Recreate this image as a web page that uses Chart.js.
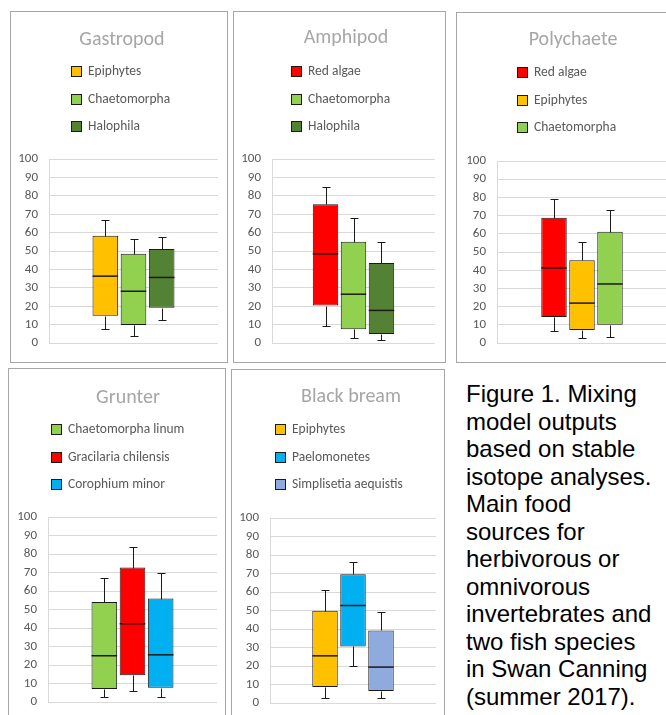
<!DOCTYPE html>
<html>
<head>
<meta charset="utf-8">
<script src="https://cdn.jsdelivr.net/npm/chart.js@4.4.1/dist/chart.umd.min.js"></script>
<style>
  html, body { margin: 0; padding: 0; background: #fff; }
  body { width: 666px; height: 715px; overflow: hidden; position: relative; }
  .panel { position: absolute; box-sizing: border-box; border: 1px solid #a6a6a6; background: #fff; overflow: hidden; }
  .panel canvas { display: block; }
  #caption {
    position: absolute; left: 466px; top: 380px;
    font-family: "Liberation Sans", Arial, sans-serif; font-size: 24px; line-height: 27.5px;
    color: #000; white-space: nowrap;
  }
</style>
</head>
<body>
<div class="panel" style="left:10px;top:11px;width:218px;height:352px"><canvas id="gastropod"></canvas></div>
<div class="panel" style="left:233px;top:11px;width:213px;height:352px"><canvas id="amphipod"></canvas></div>
<div class="panel" style="left:456px;top:12px;width:220px;height:351px"><canvas id="polychaete"></canvas></div>
<div class="panel" style="left:8px;top:368px;width:218px;height:360px"><canvas id="grunter"></canvas></div>
<div class="panel" style="left:231px;top:369px;width:214px;height:360px"><canvas id="blackbream"></canvas></div>
<div id="caption">Figure 1. Mixing<br>model outputs<br>based on stable<br>isotope analyses.<br>Main food<br>sources for<br>herbivorous or<br>omnivorous<br>invertebrates and<br>two fish species<br>in Swan Canning<br>(summer 2017).</div>
<script>
// box plot stats (% contribution): whisker low, Q1, median, Q3, whisker high
const gastropodSources = ['Epiphytes', 'Chaetomorpha', 'Halophila'];
const gastropodLow = [7.6, 3.7, 12.6];
const gastropodQ1 = [14.9, 9.9, 19.2];
const gastropodMedian = [36.4, 28.2, 35.7];
const gastropodQ3 = [58.4, 48.5, 51.2];
const gastropodHigh = [67.1, 56.7, 57.7];

const amphipodSources = ['Red algae', 'Chaetomorpha', 'Halophila'];
const amphipodLow = [9.2, 2.7, 2.0];
const amphipodQ1 = [20.4, 7.6, 5.0];
const amphipodMedian = [48.5, 26.6, 17.8];
const amphipodQ3 = [75.5, 55.1, 43.5];
const amphipodHigh = [84.7, 67.7, 55.1];

const polychaeteSources = ['Red algae', 'Epiphytes', 'Chaetomorpha'];
const polychaeteLow = [6.5, 2.7, 3.2];
const polychaeteQ1 = [14.4, 7.2, 10.1];
const polychaeteMedian = [41.3, 22.0, 32.5];
const polychaeteQ3 = [68.8, 45.5, 61.2];
const polychaeteHigh = [79.4, 55.8, 73.1];

const grunterSources = ['Chaetomorpha linum', 'Gracilaria chilensis', 'Corophium minor'];
const grunterLow = [2.9, 5.8, 2.9];
const grunterQ1 = [7.0, 14.4, 7.7];
const grunterMedian = [25.0, 42.3, 25.5];
const grunterQ3 = [54.1, 72.7, 55.9];
const grunterHigh = [67.1, 84.0, 69.6];

const breamSources = ['Epiphytes', 'Paelomonetes', 'Simplisetia aequistis'];
const breamLow = [2.9, 20.1, 2.9];
const breamQ1 = [8.6, 30.6, 6.5];
const breamMedian = [25.5, 52.7, 19.4];
const breamQ3 = [49.8, 69.6, 39.2];
const breamHigh = [61.0, 76.4, 49.3];

const yTicks = [0, 10, 20, 30, 40, 50, 60, 70, 80, 90, 100];

const sourceColors = {
  'Epiphytes': '#ffc000',
  'Chaetomorpha': '#92d050',
  'Chaetomorpha linum': '#92d050',
  'Halophila': '#548235',
  'Red algae': '#ff0000',
  'Gracilaria chilensis': '#ff0000',
  'Corophium minor': '#00b0f0',
  'Paelomonetes': '#00b0f0',
  'Simplisetia aequistis': '#8faadc'
};

const FONT = 'Carlito, Lato, "Liberation Sans", sans-serif';
const INK = '#1a1a1a';

// median line + whiskers on top of the Q1-Q3 floating bars
const boxWhiskers = {
  id: 'boxWhiskers',
  afterDatasetsDraw(chart) {
    const ctx = chart.ctx;
    const y = chart.scales.y;
    ctx.save();
    ctx.strokeStyle = INK;
    chart.data.datasets.forEach((ds, i) => {
      const bar = chart.getDatasetMeta(i).data[0];
      const half = bar.width / 2;
      const cx = Math.round(bar.x) + 0.5;
      const px = v => Math.round(y.getPixelForValue(v)) + 0.5;
      ctx.lineWidth = 1;
      ctx.beginPath();
      ctx.moveTo(cx, px(ds.q3)); ctx.lineTo(cx, px(ds.high));
      ctx.moveTo(cx - 4, px(ds.high)); ctx.lineTo(cx + 4, px(ds.high));
      ctx.moveTo(cx, px(ds.q1)); ctx.lineTo(cx, px(ds.low));
      ctx.moveTo(cx - 4, px(ds.low)); ctx.lineTo(cx + 4, px(ds.low));
      ctx.stroke();
      ctx.lineWidth = 1.5;
      ctx.beginPath();
      ctx.moveTo(bar.x - half, y.getPixelForValue(ds.median));
      ctx.lineTo(bar.x + half, y.getPixelForValue(ds.median));
      ctx.stroke();
    });
    ctx.restore();
  }
};

// title + one legend entry per row, stacked above the plot
const panelHeader = {
  id: 'panelHeader',
  afterDraw(chart, args, opts) {
    const ctx = chart.ctx;
    ctx.save();
    ctx.textBaseline = 'middle';
    ctx.textAlign = 'center';
    ctx.font = '20px ' + FONT;
    ctx.fillStyle = '#a6a6a6';
    ctx.fillText(opts.title, opts.titleX, opts.titleY);

    ctx.font = '13.5px ' + FONT;
    ctx.textAlign = 'left';
    chart.data.datasets.forEach((ds, i) => {
      const cy = Math.round(opts.legY + i * opts.gap);
      ctx.fillStyle = ds.backgroundColor;
      ctx.fillRect(opts.legX, cy - 5, 11, 11);
      ctx.strokeStyle = INK;
      ctx.lineWidth = 1;
      ctx.strokeRect(opts.legX + 0.5, cy - 4.5, 10, 10);
      ctx.fillStyle = '#595959';
      ctx.fillText(ds.label, opts.legX + 17, cy + 1);
    });
    ctx.restore();
  }
};

function boxPanel(id, title, sources, low, q1, median, q3, high, geo) {
  const canvas = document.getElementById(id);
  canvas.width = geo.w;
  canvas.height = geo.h;
  return new Chart(canvas, {
    type: 'bar',
    data: {
      labels: [''],
      datasets: sources.map((s, i) => ({
        label: s,
        data: [[q1[i], q3[i]]],
        low: low[i], q1: q1[i], median: median[i], q3: q3[i], high: high[i],
        backgroundColor: sourceColors[s],
        borderColor: INK,
        borderWidth: 1,
        borderSkipped: false,
        categoryPercentage: geo.cp,
        barPercentage: 0.91
      }))
    },
    options: {
      responsive: false,
      animation: false,
      events: [],
      layout: { padding: { left: 0, right: geo.padR, top: geo.top, bottom: geo.padB } },
      plugins: {
        legend: { display: false },
        tooltip: { enabled: false },
        title: { display: false },
        panelHeader: { title: title, titleX: geo.titleX, titleY: geo.titleY, legX: geo.legX, legY: geo.legY, gap: 27.5 }
      },
      scales: {
        x: { display: false },
        y: {
          min: 0,
          max: 100,
          afterFit: s => { s.width = geo.yW; },
          afterBuildTicks: s => { s.ticks = yTicks.map(v => ({ value: v })); },
          grid: { color: '#d9d9d9', drawTicks: false },
          border: { color: '#d9d9d9' },
          ticks: { color: '#595959', padding: 11, autoSkip: false, font: { family: FONT, size: 13 } }
        }
      }
    },
    plugins: [boxWhiskers, panelHeader]
  });
}

boxPanel('gastropod', 'Gastropod', gastropodSources, gastropodLow, gastropodQ1, gastropodMedian, gastropodQ3, gastropodHigh,
  { w: 216, h: 350, top: 147, padR: 9, padB: 15, yW: 38, cp: 0.5, titleX: 111, titleY: 28, legX: 60, legY: 59 });
boxPanel('amphipod', 'Amphipod', amphipodSources, amphipodLow, amphipodQ1, amphipodMedian, amphipodQ3, amphipodHigh,
  { w: 211, h: 350, top: 147, padR: 10, padB: 15, yW: 38, cp: 0.515, titleX: 112, titleY: 26, legX: 57, legY: 59 });
boxPanel('polychaete', 'Polychaete', polychaeteSources, polychaeteLow, polychaeteQ1, polychaeteMedian, polychaeteQ3, polychaeteHigh,
  { w: 218, h: 349, top: 148, padR: 8, padB: 16, yW: 40, cp: 0.494, titleX: 116, titleY: 27, legX: 60, legY: 59 });
boxPanel('grunter', 'Grunter', grunterSources, grunterLow, grunterQ1, grunterMedian, grunterQ3, grunterHigh,
  { w: 216, h: 358, top: 148, padR: 8, padB: 25, yW: 39, cp: 0.5, titleX: 119, titleY: 29, legX: 42, legY: 60 });
boxPanel('blackbream', 'Black bream', breamSources, breamLow, breamQ1, breamMedian, breamQ3, breamHigh,
  { w: 212, h: 358, top: 148, padR: 8, padB: 25, yW: 38, cp: 0.506, titleX: 119, titleY: 27, legX: 43, legY: 59 });
</script>
</body>
</html>
